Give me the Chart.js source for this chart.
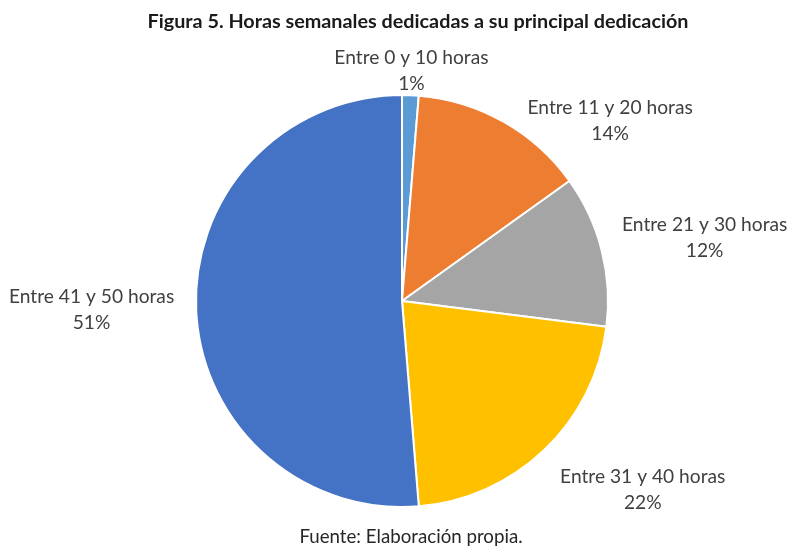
<!DOCTYPE html>
<html>
<head>
<meta charset="utf-8">
<script src="https://cdn.jsdelivr.net/npm/chart.js@4.4.1/dist/chart.umd.min.js"></script>
<style>
    html, body { margin: 0; padding: 0; background: #fff; }
    #wrap { width: 790px; height: 547px; position: relative; }
</style>
</head>
<body>
<div id="wrap"><canvas id="pieChart"></canvas></div>
<script>
// Data
const categories = ['Entre 0 y 10 horas', 'Entre 11 y 20 horas', 'Entre 21 y 30 horas', 'Entre 31 y 40 horas', 'Entre 41 y 50 horas'];
const shares = [1.3, 13.8, 11.9, 21.7, 51.3];
const sliceColors = ['#5B9BD5', '#ED7D31', '#A5A5A5', '#FFC000', '#4472C4'];

const titleText = 'Figura 5. Horas semanales dedicadas a su principal dedicación';
const sourceText = 'Fuente: Elaboración propia.';

// Label nudges (px) on top of the outside-end placement, Excel "best fit" style
const labelNudge = [[-3, 24], [49, 44], [-1, -1], [4, -2], [0, -2]];

const FONT = "Lato, 'Open Sans', sans-serif";

/**
 * Title, source line and outside slice labels
 */
const textPlugin = {
    id: 'textPlugin',
    afterDraw(chart) {
        const ctx = chart.ctx;
        ctx.save();
        ctx.textAlign = 'center';
        ctx.textBaseline = 'middle';

        ctx.fillStyle = '#1a1a1a';
        ctx.font = `bold 19.8px ${FONT}`;
        ctx.fillText(titleText, 418, 22);

        ctx.fillStyle = '#262626';
        ctx.font = `18.7px ${FONT}`;
        ctx.fillText(sourceText, 411, 537);

        const meta = chart.getDatasetMeta(0);
        const total = shares.reduce((a, b) => a + b, 0);
        ctx.fillStyle = '#404040';
        ctx.font = `19.2px ${FONT}`;
        const lineH = 26;

        meta.data.forEach((arc, i) => {
            const mid = (arc.startAngle + arc.endAngle) / 2;
            const dx = Math.cos(mid), dy = Math.sin(mid);
            const r = arc.outerRadius + 22;
            const px = arc.x + dx * r;
            const py = arc.y + dy * r;
            const pct = Math.round(shares[i] / total * 100) + '%';
            const w = ctx.measureText(categories[i]).width;
            const h = lineH * 2;
            const m = Math.max(Math.abs(dx), Math.abs(dy));
            const cx = px + (dx / m) * w / 2 + labelNudge[i][0];
            const cy = py + (dy / m) * h / 2 + labelNudge[i][1];
            ctx.fillText(categories[i], cx, cy - lineH / 2);
            ctx.fillText(pct, cx, cy + lineH / 2);
        });
        ctx.restore();
    }
};

new Chart(document.getElementById('pieChart'), {
    type: 'pie',
    data: {
        labels: categories,
        datasets: [{
            data: shares,
            backgroundColor: sliceColors,
            borderColor: '#ffffff',
            borderWidth: 2
        }]
    },
    options: {
        responsive: true,
        maintainAspectRatio: false,
        animation: false,
        layout: { padding: { left: 195, right: 181, top: 94, bottom: 39 } },
        plugins: {
            legend: { display: false },
            tooltip: { enabled: false }
        }
    },
    plugins: [textPlugin]
});
</script>
</body>
</html>
